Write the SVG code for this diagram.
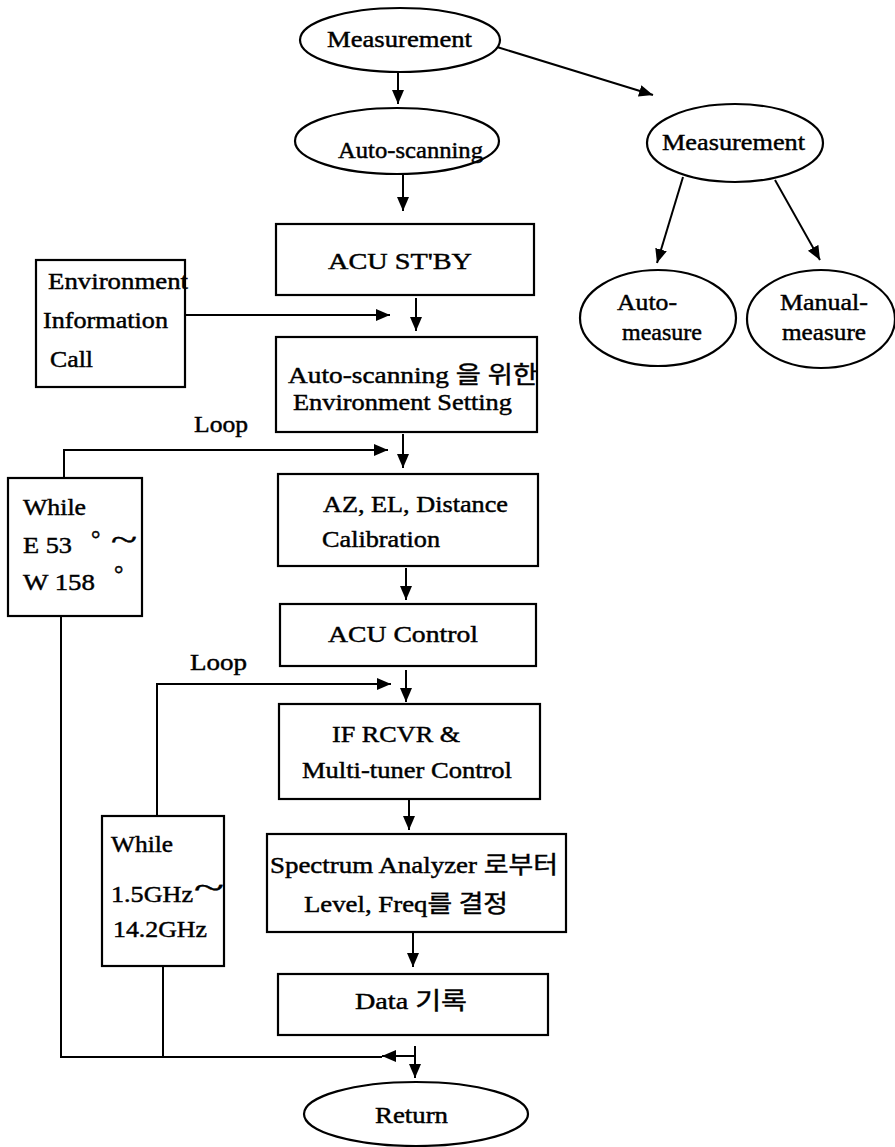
<svg xmlns="http://www.w3.org/2000/svg" width="895" height="1147" viewBox="0 0 895 1147">
<style>
.s{fill:#fff;stroke:#000;stroke-width:2.2}
.c{fill:none;stroke:#000;stroke-width:2}
.t{font-family:"Liberation Serif","Noto Sans CJK KR",serif;font-size:23.5px;fill:#000;stroke:#000;stroke-width:0.45}
</style>
<defs>
<marker id="ah" markerUnits="userSpaceOnUse" markerWidth="15" markerHeight="13" refX="14" refY="6" orient="auto">
<path d="M0,0 L14,6 L0,12 z" fill="#000"/>
</marker>
</defs>
<rect width="895" height="1147" fill="#fff"/>
<g id="connectors">
<line class="c" x1="398" y1="72" x2="398" y2="104" marker-end="url(#ah)"/>
<line class="c" x1="497" y1="47" x2="653" y2="95" marker-end="url(#ah)"/>
<line class="c" x1="403" y1="174" x2="403" y2="211" marker-end="url(#ah)"/>
<line class="c" x1="416" y1="298" x2="416" y2="331" marker-end="url(#ah)"/>
<line class="c" x1="185" y1="315" x2="390" y2="315" marker-end="url(#ah)"/>
<polyline class="c" points="64,478 64,450 388,450" marker-end="url(#ah)"/>
<line class="c" x1="403" y1="434" x2="403" y2="468" marker-end="url(#ah)"/>
<line class="c" x1="406" y1="568" x2="406" y2="600" marker-end="url(#ah)"/>
<polyline class="c" points="157,816 157,684 391,684" marker-end="url(#ah)"/>
<line class="c" x1="406" y1="670" x2="406" y2="702" marker-end="url(#ah)"/>
<line class="c" x1="409" y1="800" x2="409" y2="830" marker-end="url(#ah)"/>
<line class="c" x1="413" y1="933" x2="413" y2="967" marker-end="url(#ah)"/>
<polyline class="c" points="61,616 61,1057 382,1057"/>
<line class="c" x1="163" y1="966" x2="163" y2="1057"/>
<line class="c" x1="415" y1="1056" x2="382" y2="1056" marker-end="url(#ah)"/>
<line class="c" x1="415" y1="1046" x2="415" y2="1078" marker-end="url(#ah)"/>
<line class="c" x1="683" y1="177" x2="657" y2="263" marker-end="url(#ah)"/>
<line class="c" x1="775" y1="180" x2="820" y2="260" marker-end="url(#ah)"/>
</g>
<g id="measurement">
<ellipse class="s" cx="400" cy="40" rx="100" ry="32"/>
<text class="t" x="327" y="47" textLength="145" lengthAdjust="spacingAndGlyphs">Measurement</text>
</g>
<g id="auto-scanning">
<ellipse class="s" cx="397" cy="141" rx="102" ry="33"/>
<text class="t" x="338" y="158" textLength="145" lengthAdjust="spacingAndGlyphs">Auto-scanning</text>
</g>
<g id="measurement2">
<ellipse class="s" cx="735" cy="143" rx="88" ry="39"/>
<text class="t" x="662" y="150" textLength="143" lengthAdjust="spacingAndGlyphs">Measurement</text>
</g>
<g id="auto-measure">
<ellipse class="s" cx="658" cy="318" rx="78" ry="48"/>
<text class="t" x="617" y="310" textLength="60" lengthAdjust="spacingAndGlyphs">Auto-</text>
<text class="t" x="622" y="340" textLength="80" lengthAdjust="spacingAndGlyphs">measure</text>
</g>
<g id="manual-measure">
<ellipse class="s" cx="821" cy="319" rx="74" ry="49"/>
<text class="t" x="780" y="310" textLength="88" lengthAdjust="spacingAndGlyphs">Manual-</text>
<text class="t" x="782" y="340" textLength="84" lengthAdjust="spacingAndGlyphs">measure</text>
</g>
<g id="acu-stby">
<rect class="s" x="276" y="224" width="258" height="71"/>
<text class="t" x="328" y="269" textLength="144" lengthAdjust="spacingAndGlyphs">ACU  ST'BY</text>
</g>
<g id="env-info">
<rect class="s" x="36" y="260" width="149" height="127"/>
<text class="t" x="48" y="289" textLength="140" lengthAdjust="spacingAndGlyphs">Environment</text>
<text class="t" x="43" y="328" textLength="125" lengthAdjust="spacingAndGlyphs">Information</text>
<text class="t" x="50" y="367" textLength="43" lengthAdjust="spacingAndGlyphs">Call</text>
</g>
<g id="env-setting">
<rect class="s" x="276" y="337" width="261" height="95"/>
<text class="t" x="288" y="383" textLength="250" lengthAdjust="spacingAndGlyphs">Auto-scanning 을 위한</text>
<text class="t" x="293" y="410" textLength="219" lengthAdjust="spacingAndGlyphs">Environment Setting</text>
</g>
<g id="loop1">
<text class="t" x="194" y="432" textLength="54" lengthAdjust="spacingAndGlyphs">Loop</text>
</g>
<g id="while1">
<rect class="s" x="8" y="478" width="134" height="138"/>
<text class="t" x="23" y="515" textLength="63" lengthAdjust="spacingAndGlyphs">While</text>
<text class="t" x="23" y="553" textLength="49" lengthAdjust="spacingAndGlyphs">E 53</text>
<text class="t" x="91" y="547">°</text>
<text class="t" x="111" y="550" style="font-size:30px" textLength="26" lengthAdjust="spacingAndGlyphs">~</text>
<text class="t" x="23" y="590" textLength="72" lengthAdjust="spacingAndGlyphs">W 158</text>
<text class="t" x="114" y="582">°</text>
</g>
<g id="az-el">
<rect class="s" x="278" y="474" width="260" height="92"/>
<text class="t" x="323" y="512" textLength="185" lengthAdjust="spacingAndGlyphs">AZ, EL, Distance</text>
<text class="t" x="322" y="547" textLength="118" lengthAdjust="spacingAndGlyphs">Calibration</text>
</g>
<g id="acu-control">
<rect class="s" x="280" y="604" width="256" height="62"/>
<text class="t" x="328" y="642" textLength="150" lengthAdjust="spacingAndGlyphs">ACU  Control</text>
</g>
<g id="loop2">
<text class="t" x="190" y="670" textLength="57" lengthAdjust="spacingAndGlyphs">Loop</text>
</g>
<g id="if-rcvr">
<rect class="s" x="279" y="704" width="261" height="95"/>
<text class="t" x="332" y="742" textLength="128" lengthAdjust="spacingAndGlyphs">IF RCVR &amp;</text>
<text class="t" x="302" y="778" textLength="210" lengthAdjust="spacingAndGlyphs">Multi-tuner Control</text>
</g>
<g id="while2">
<rect class="s" x="102" y="816" width="122" height="150"/>
<text class="t" x="111" y="852" textLength="62" lengthAdjust="spacingAndGlyphs">While</text>
<text class="t" x="111" y="902" textLength="82" lengthAdjust="spacingAndGlyphs">1.5GHz</text>
<text class="t" x="194" y="898" style="font-size:30px" textLength="30" lengthAdjust="spacingAndGlyphs">~</text>
<text class="t" x="113" y="937" textLength="94" lengthAdjust="spacingAndGlyphs">14.2GHz</text>
</g>
<g id="spectrum">
<rect class="s" x="267" y="834" width="299" height="98"/>
<text class="t" x="270" y="873" textLength="288" lengthAdjust="spacingAndGlyphs">Spectrum Analyzer 로부터</text>
<text class="t" x="304" y="912" textLength="204" lengthAdjust="spacingAndGlyphs">Level, Freq를 결정</text>
</g>
<g id="data">
<rect class="s" x="278" y="974" width="270" height="61"/>
<text class="t" x="355" y="1009" textLength="112" lengthAdjust="spacingAndGlyphs">Data  기록</text>
</g>
<g id="return">
<ellipse class="s" cx="416" cy="1114" rx="112" ry="32"/>
<text class="t" x="375" y="1123" textLength="73" lengthAdjust="spacingAndGlyphs">Return</text>
</g>
</svg>
